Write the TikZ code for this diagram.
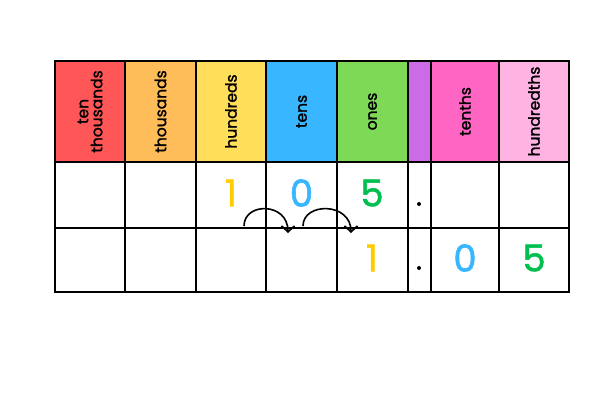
\documentclass[tikz,border=0pt]{standalone}
\usepackage{fontspec}
\setmainfont{Poppins}[RawFeature={embolden=1.5}]
\usetikzlibrary{calc}
\usetikzlibrary{arrows.meta}

\definecolor{cTT}{HTML}{FF5757}
\definecolor{cTh}{HTML}{FFBD59}
\definecolor{cH}{HTML}{FFDE59}
\definecolor{cT}{HTML}{38B6FF}
\definecolor{cO}{HTML}{7ED957}
\definecolor{cP}{HTML}{CB6CE6}
\definecolor{cTe}{HTML}{FF66C4}
\definecolor{cHu}{HTML}{FFB3E3}
\definecolor{dY}{HTML}{FFCC00}
\definecolor{dB}{HTML}{38B6FF}
\definecolor{dG}{HTML}{00BF4F}

\tikzset{
  head/.style={rotate=90, font=\fontsize{15.5}{14}\selectfont, align=center},
  digit/.style={font=\fontsize{37}{37}\selectfont},
  grid line/.style={line width=2pt},
  hop/.style={line width=1.6pt, -{Straight Barb[length=6pt, width=13pt]}},
}

\begin{document}
\begin{tikzpicture}[x=1pt, y=-1pt]

\useasboundingbox (0,0) rectangle (612,408);

% 定义点
\def\yA{61}
\def\yB{162}
\def\yC{228}
\def\yD{292}

% 表头
\fill[cTT] (55,\yA) rectangle (125,\yB);
\fill[cTh] (125,\yA) rectangle (196,\yB);
\fill[cH]  (196,\yA) rectangle (266,\yB);
\fill[cT]  (266,\yA) rectangle (337,\yB);
\fill[cO]  (337,\yA) rectangle (408,\yB);
\fill[cP]  (408,\yA) rectangle (431,\yB);
\fill[cTe] (431,\yA) rectangle (499,\yB);
\fill[cHu] (499,\yA) rectangle (569,\yB);

\node[head] (hTT) at (90,111.5) {ten\\thousands};
\node[head] (hTh) at (160.5,111.5) {thousands};
\node[head] (hH)  at (231,111.5) {hundreds};
\node[head] (hT)  at (301.5,111.5) {tens};
\node[head] (hO)  at (372.5,111.5) {ones};
\node[head] (hTe) at (465,111.5) {tenths};
\node[head] (hHu) at (534,111.5) {hundredths};

% 网格
\draw[grid line] (55,\yA) rectangle (569,\yD);
\draw[grid line] (55,\yB) -- (569,\yB);
\draw[grid line] (55,\yC) -- (569,\yC);
\draw[grid line] (125,\yA) -- (125,\yD);
\draw[grid line] (196,\yA) -- (196,\yD);
\draw[grid line] (266,\yA) -- (266,\yD);
\draw[grid line] (337,\yA) -- (337,\yD);
\draw[grid line] (408,\yA) -- (408,\yD);
\draw[grid line] (431,\yA) -- (431,\yD);
\draw[grid line] (499,\yA) -- (499,\yD);

% 数字
\node[digit, text=dY] (a1) at (231,193) {1};
\node[digit, text=dB] (a0) at (301.5,193) {0};
\node[digit, text=dG] (a5) at (372,193) {5};

\node[digit, text=dY] (b1) at (372,258) {1};
\node[digit, text=dB] (b0) at (465,258) {0};
\node[digit, text=dG] (b5) at (534,258) {5};

\fill (419,204) circle[radius=2pt];
\fill (419,268) circle[radius=2pt];

% 箭头
\coordinate (S1) at (244,226);
\coordinate (E1) at (288,233);
\coordinate (S2) at (303,226);
\coordinate (E2) at (351,233);

\draw[hop] (S1) .. controls (244,202) and (288,202) .. (E1);
\draw[hop] (S2) .. controls (303,202) and (351,202) .. (E2);

\end{tikzpicture}
\end{document}
